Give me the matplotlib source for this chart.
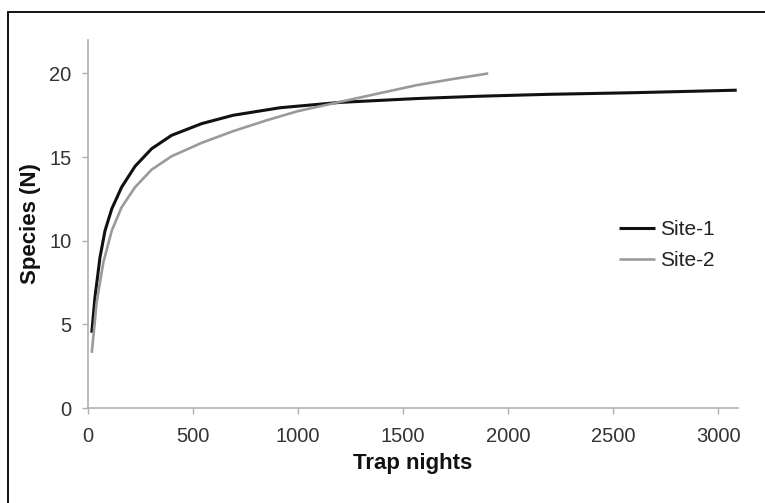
import matplotlib
matplotlib.use("Agg")
import matplotlib.pyplot as plt
from matplotlib.patches import Rectangle

plt.rcParams['font.family'] = ['Liberation Sans', 'DejaVu Sans']

# Data
site1_x = [18, 33, 57, 81, 113, 160, 224, 303, 398, 541, 691, 914, 1200, 1565, 1867, 2184, 2600, 3089]
site1_y = [4.5, 6.6, 9.0, 10.6, 11.9, 13.2, 14.45, 15.5, 16.3, 17.0, 17.5, 17.95, 18.27, 18.5, 18.64, 18.75, 18.85, 19.0]
site2_x = [18, 41, 73, 113, 160, 224, 303, 398, 541, 691, 851, 1000, 1200, 1400, 1565, 1724, 1906]
site2_y = [3.3, 6.3, 8.7, 10.6, 12.0, 13.2, 14.25, 15.05, 15.85, 16.55, 17.2, 17.75, 18.3, 18.85, 19.3, 19.64, 20.0]
x_ticks = [0, 500, 1000, 1500, 2000, 2500, 3000]
y_ticks = [0, 5, 10, 15, 20]
labels = ["Site-1", "Site-2"]

W, H = 765, 503
fig = plt.figure(figsize=(W / 100, H / 100), dpi=100)
fig.patch.set_facecolor('white')

# outer frame (cropped on right/bottom in the reference)
fig.add_artist(Rectangle((8 / W, -0.1), 1.2, 1 - 12 / H + 0.1, transform=fig.transFigure,
                         fill=False, edgecolor='black', linewidth=1.3))

ax = fig.add_axes([88 / W, 1 - 408 / H, (738 - 88) / W, (408 - 40) / H])
ax.plot(site1_x, site1_y, color='#111111', linewidth=2.2, label=labels[0],
        solid_capstyle='butt', solid_joinstyle='round')
ax.plot(site2_x, site2_y, color='#9a9a9a', linewidth=1.9, label=labels[1],
        solid_capstyle='butt', solid_joinstyle='round')

ax.set_xlim(0, 3095)
ax.set_ylim(0, 22)
ax.set_xticks(x_ticks)
ax.set_yticks(y_ticks)
for s in ['top', 'right']:
    ax.spines[s].set_visible(False)
for s in ['left', 'bottom']:
    ax.spines[s].set_color('#b0b0b0')
    ax.spines[s].set_linewidth(1.2)
ax.tick_params(axis='both', colors='#b0b0b0', labelcolor='#333333', labelsize=14.5,
               length=4, width=1)
ax.tick_params(axis='x', pad=10)
ax.tick_params(axis='y', pad=8)

ax.set_xlabel("Trap nights", fontsize=16, fontweight='bold', color='#111111', labelpad=5)
ax.set_ylabel("Species (N)", fontsize=16, fontweight='bold', color='#111111', labelpad=6)

leg = ax.legend(loc='upper left', bbox_to_anchor=(619 / W, 1 - 220 / H), bbox_transform=fig.transFigure,
                frameon=False, fontsize=15, handlelength=1.75, handletextpad=0.2,
                labelspacing=0.6, borderpad=0, borderaxespad=0)
for t in leg.get_texts():
    t.set_color('#222222')

fig.savefig("out.png", dpi=100)
